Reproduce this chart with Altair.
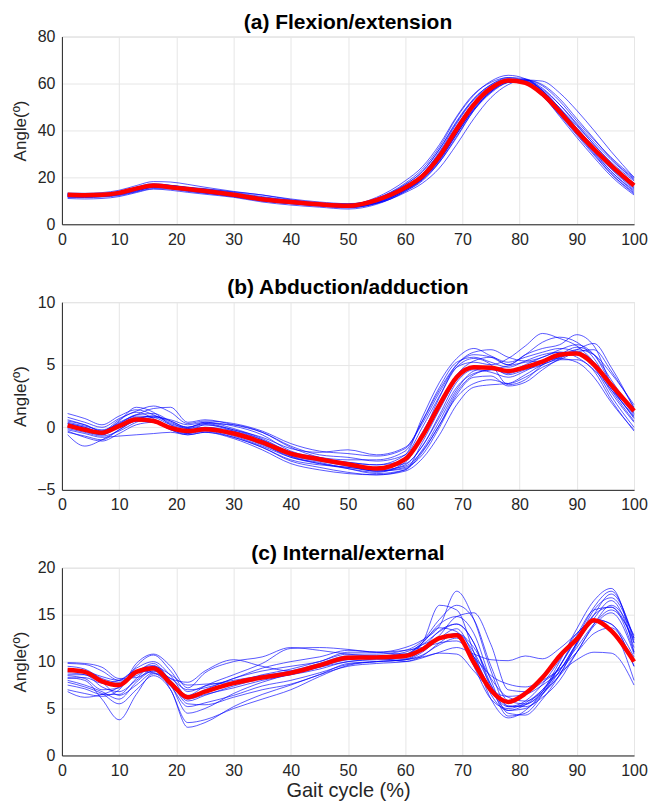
import altair as alt
import pandas as pd

FONT = "Liberation Sans"

# Gait cycle sample positions (%)
X = [1, 4, 7, 10, 13, 16, 19, 22, 25, 30, 35, 40, 45, 50, 55, 60, 63, 66, 69, 72, 75, 78, 81, 84, 87, 90, 93, 96, 100]

# ---------------- (a) Flexion/extension ----------------
A_MEAN = [12.6, 12.4, 12.6, 13.4, 15.2, 16.5, 15.8, 15.0, 14.2, 12.6, 10.7, 9.5, 8.5, 7.9, 10.3, 15.6, 20.5, 29.0, 40.5, 51.0, 58.0, 61.3, 60.3, 55.5, 48.0, 39.7, 32.0, 25.0, 16.5]
A_TRIALS = [
    [12.0, 12.0, 12.3, 13.5, 15.8, 17.3, 16.6, 15.6, 14.8, 13.2, 11.2, 9.8, 8.8, 8.3, 11.5, 18.5, 24.5, 34.0, 46.0, 55.5, 60.5, 62.5, 61.0, 55.0, 46.0, 37.0, 28.5, 20.5, 12.5],
    [13.0, 12.8, 12.8, 13.2, 14.5, 15.8, 15.8, 15.2, 14.5, 13.0, 11.2, 9.8, 8.8, 8.0, 9.0, 13.5, 17.5, 24.0, 34.0, 45.0, 54.0, 59.5, 61.5, 59.5, 53.5, 45.0, 36.5, 28.0, 19.5],
    [11.5, 11.5, 11.8, 12.6, 14.2, 15.6, 15.2, 14.2, 13.3, 12.0, 10.0, 8.8, 8.0, 7.2, 9.0, 14.5, 19.5, 28.0, 39.5, 50.5, 57.5, 61.0, 60.5, 56.0, 48.5, 40.0, 32.0, 24.0, 15.5],
    [13.3, 13.2, 13.5, 14.5, 16.5, 18.2, 18.0, 17.0, 15.8, 14.0, 12.5, 10.8, 9.5, 8.8, 10.5, 16.2, 21.5, 30.5, 42.0, 52.0, 58.5, 61.5, 61.0, 57.0, 49.5, 41.0, 33.0, 25.5, 17.5],
    [11.0, 10.8, 11.0, 11.8, 13.5, 15.0, 14.5, 13.6, 12.8, 11.5, 9.5, 8.2, 7.3, 6.5, 8.5, 14.0, 19.0, 27.0, 38.5, 49.5, 57.0, 61.5, 61.5, 57.0, 49.5, 41.0, 33.0, 25.0, 17.0],
    [12.8, 12.5, 12.8, 13.8, 15.5, 16.8, 16.2, 15.2, 14.5, 12.8, 11.0, 9.6, 8.6, 8.0, 11.0, 17.5, 23.5, 33.0, 45.5, 55.0, 61.0, 63.5, 62.0, 56.5, 48.0, 39.0, 30.5, 22.5, 14.5],
    [12.3, 12.2, 12.5, 13.2, 14.8, 16.2, 15.8, 14.8, 14.0, 12.5, 10.5, 9.2, 8.2, 7.5, 9.5, 15.0, 19.5, 27.5, 38.5, 49.0, 56.5, 60.5, 61.5, 61.0, 56.0, 48.5, 40.0, 31.0, 20.0],
    [12.0, 12.0, 12.0, 12.5, 14.0, 15.8, 15.8, 15.5, 15.0, 13.8, 12.5, 10.5, 9.0, 8.2, 9.8, 15.5, 21.0, 30.0, 41.0, 51.5, 58.0, 61.0, 60.5, 56.0, 48.0, 39.5, 31.5, 23.5, 15.0],
    [12.5, 12.2, 12.3, 13.0, 14.8, 16.2, 16.0, 15.0, 14.0, 12.2, 10.2, 9.0, 8.3, 7.8, 10.2, 16.0, 21.5, 31.0, 43.0, 53.0, 59.0, 61.5, 60.0, 54.5, 46.5, 38.0, 29.5, 21.5, 13.5],
    [12.8, 12.6, 13.0, 14.0, 15.8, 17.0, 16.5, 15.5, 14.6, 13.0, 11.0, 9.6, 8.5, 7.5, 9.2, 14.5, 19.0, 26.5, 37.0, 48.5, 56.5, 61.0, 61.0, 57.5, 51.0, 43.0, 35.0, 27.5, 19.0],
    [11.8, 11.7, 12.0, 12.8, 14.5, 16.0, 15.6, 14.8, 14.0, 12.3, 10.3, 9.2, 8.4, 8.0, 10.0, 15.5, 20.5, 29.0, 40.5, 51.0, 57.5, 60.5, 60.0, 55.5, 48.0, 40.0, 32.0, 24.0, 16.0],
    [12.6, 12.5, 12.8, 13.5, 15.2, 16.5, 16.2, 15.4, 14.5, 13.0, 11.5, 10.2, 9.0, 8.5, 11.0, 17.0, 22.5, 32.0, 44.0, 53.5, 59.5, 62.0, 61.0, 55.5, 47.0, 38.5, 30.0, 21.5, 13.0],
    [13.0, 12.8, 13.0, 13.8, 15.5, 16.8, 16.5, 15.6, 14.8, 13.2, 11.2, 9.8, 8.8, 8.0, 9.5, 14.8, 19.5, 27.5, 38.5, 49.0, 56.5, 60.5, 60.5, 56.5, 49.5, 42.0, 34.0, 26.5, 18.5],
    [12.2, 12.0, 12.2, 13.0, 14.8, 16.2, 15.5, 14.5, 13.5, 11.8, 10.0, 8.8, 7.8, 7.0, 9.0, 14.5, 19.5, 28.0, 39.5, 50.0, 57.0, 61.0, 61.5, 58.0, 51.0, 42.5, 34.0, 26.0, 17.5],
    [12.4, 12.3, 12.6, 13.6, 15.4, 16.8, 16.6, 15.8, 15.2, 13.6, 11.8, 10.2, 9.0, 8.6, 10.8, 16.8, 22.5, 32.0, 43.5, 53.5, 59.5, 62.5, 62.0, 57.0, 48.5, 39.5, 31.0, 22.5, 14.0],
    [11.6, 11.4, 11.6, 12.2, 13.8, 15.2, 15.0, 14.0, 13.2, 11.8, 10.0, 8.8, 7.8, 7.2, 8.8, 14.0, 18.5, 26.5, 37.5, 48.5, 56.0, 60.5, 61.5, 59.0, 52.5, 44.0, 36.0, 28.5, 20.0],
]

# ---------------- (b) Abduction/adduction ----------------
B_MEAN = [0.15, -0.2, -0.43, 0.1, 0.62, 0.5, -0.05, -0.3, -0.16, -0.5, -1.2, -2.1, -2.55, -2.95, -3.3, -2.55, -0.7, 1.8, 4.0, 4.8, 4.76, 4.5, 4.8, 5.25, 5.8, 5.9, 5.0, 3.4, 1.3]
B_TRIALS = [
    [1.1, 0.7, 0.2, 0.9, 1.4, 1.0, 0.3, 0.0, 0.3, -0.2, -0.8, -1.7, -2.0, -1.8, -2.2, -1.6, 0.3, 2.8, 5.0, 6.0, 6.2, 5.6, 5.3, 5.6, 6.2, 6.6, 5.8, 3.5, 1.0],
    [-0.6, -1.5, -1.0, -0.2, 0.6, 0.9, 0.4, -0.1, 0.0, -0.3, -1.0, -2.0, -2.5, -3.0, -3.5, -3.3, -1.8, 0.5, 3.0, 4.5, 4.8, 4.2, 4.6, 5.0, 5.6, 6.2, 5.8, 4.3, 1.8],
    [0.3, 0.0, -0.4, 0.5, 1.6, 1.2, 0.2, -0.3, 0.2, -0.2, -1.0, -2.3, -2.9, -3.3, -3.6, -2.8, -0.6, 2.4, 4.8, 5.5, 5.0, 3.4, 3.8, 5.0, 5.8, 6.0, 5.2, 3.0, 0.5],
    [-0.2, -0.5, -0.8, -0.7, -0.6, -0.5, -0.4, -0.6, -0.4, -0.8, -1.6, -2.6, -3.0, -3.2, -3.5, -3.0, -1.5, 0.8, 3.2, 4.3, 4.6, 4.9, 5.2, 5.3, 5.5, 5.2, 4.0, 2.0, -0.2],
    [0.5, 0.2, -0.3, 0.4, 1.0, 1.5, 1.6, 0.4, 0.6, 0.2, -0.4, -1.5, -2.2, -2.4, -2.7, -2.2, 0.0, 2.5, 4.8, 5.2, 5.0, 5.5, 6.5, 7.5, 7.1, 6.5, 5.2, 3.2, 1.2],
    [0.0, -0.3, -0.6, 0.2, 0.8, 0.6, 0.0, -0.4, -0.2, -0.6, -1.4, -2.3, -2.7, -3.1, -3.5, -3.2, -2.2, 0.0, 2.6, 4.0, 4.1, 3.3, 3.6, 4.6, 5.5, 6.2, 6.7, 4.8, 1.5],
    [0.4, 0.1, -0.2, 0.3, 0.9, 0.8, 0.2, -0.1, 0.2, -0.3, -1.2, -2.2, -2.6, -2.8, -3.0, -2.2, 0.8, 3.6, 5.5, 6.3, 5.7, 5.2, 5.6, 6.0, 6.3, 6.0, 4.8, 2.5, 0.0],
    [-0.4, -0.7, -1.0, -0.2, 0.5, 0.6, 0.0, -0.5, -0.3, -0.8, -1.6, -2.7, -3.2, -3.6, -3.8, -3.4, -2.0, 0.2, 2.4, 3.5, 3.8, 3.5, 4.0, 4.8, 5.4, 6.0, 6.2, 4.5, 1.6],
    [0.2, -0.1, -0.5, 0.1, 0.7, 0.9, 0.5, 0.0, 0.3, 0.2, -0.4, -1.6, -2.4, -2.8, -3.0, -2.6, -0.4, 2.0, 4.2, 5.3, 5.6, 5.0, 5.8, 6.8, 7.2, 6.8, 5.5, 3.2, 0.8],
    [0.6, 0.2, -0.3, 0.6, 1.2, 0.7, -0.2, -0.5, 0.0, -0.5, -1.3, -2.4, -2.8, -3.3, -3.7, -3.4, -1.2, 1.4, 3.8, 4.9, 4.7, 4.3, 4.8, 5.2, 5.6, 5.9, 5.0, 2.8, 0.4],
    [-0.1, -0.4, -0.7, -0.3, 0.4, 0.8, 0.6, 0.2, 0.4, -0.1, -0.9, -2.0, -2.5, -2.9, -3.2, -2.9, -1.5, 1.0, 3.6, 4.6, 4.4, 4.0, 4.5, 5.2, 5.8, 6.4, 5.8, 3.8, 1.1],
    [0.3, 0.0, -0.4, 0.3, 1.0, 1.1, 0.5, 0.0, 0.4, 0.1, -0.6, -1.9, -2.4, -2.6, -2.6, -1.9, 0.5, 3.2, 5.2, 5.6, 5.2, 4.8, 5.3, 5.8, 6.0, 5.6, 4.5, 2.2, -0.3],
    [0.1, -0.3, -0.6, 0.0, 0.5, 0.4, -0.2, -0.6, -0.4, -0.9, -1.8, -2.9, -3.4, -3.7, -3.8, -3.5, -2.5, -0.6, 1.8, 3.2, 3.4, 3.5, 4.2, 5.0, 5.4, 5.4, 4.6, 3.0, 0.9],
    [0.8, 0.4, 0.0, 0.7, 1.3, 1.7, 1.2, 0.3, 0.5, 0.3, -0.3, -1.3, -1.9, -2.1, -2.3, -1.7, 0.5, 3.0, 5.0, 5.8, 5.6, 5.0, 5.8, 6.3, 6.6, 7.4, 6.5, 3.5, 1.4],
    [-0.3, -0.8, -1.1, -0.5, 0.2, 0.4, 0.0, -0.4, -0.2, -0.7, -1.5, -2.4, -2.9, -3.2, -3.4, -3.1, -1.9, 0.2, 2.8, 4.2, 4.6, 4.5, 5.0, 5.6, 6.0, 6.0, 5.0, 3.2, 0.7],
]

# ---------------- (c) Internal/external ----------------
C_MEAN = [9.1, 8.9, 7.9, 7.5, 8.9, 9.3, 7.7, 6.2, 6.8, 7.7, 8.3, 8.8, 9.6, 10.4, 10.45, 10.6, 11.3, 12.5, 12.8, 9.9, 6.95, 5.7, 6.6, 8.3, 10.6, 12.4, 14.4, 13.3, 10.0]
C_TRIALS = [
    [9.8, 9.7, 9.0, 8.0, 8.5, 9.5, 8.6, 7.5, 7.6, 7.8, 8.6, 9.2, 10.0, 10.8, 10.8, 11.2, 12.2, 14.5, 16.0, 14.5, 9.5, 5.8, 5.5, 6.8, 9.5, 12.5, 15.8, 17.5, 12.0],
    [8.3, 8.0, 6.0, 3.8, 6.5, 8.7, 7.8, 5.8, 6.4, 7.4, 8.2, 8.8, 9.4, 10.0, 10.3, 10.5, 12.0, 16.0, 15.5, 11.0, 6.5, 4.8, 5.0, 6.5, 9.0, 12.0, 14.6, 16.5, 11.5],
    [7.0, 6.6, 6.3, 7.0, 9.5, 10.7, 9.0, 6.8, 7.4, 8.0, 8.5, 9.0, 9.8, 10.6, 10.6, 10.8, 12.0, 14.0, 14.8, 13.0, 8.0, 4.5, 4.3, 6.0, 8.6, 12.0, 15.5, 16.8, 12.5],
    [9.5, 9.2, 8.2, 7.8, 9.0, 9.6, 8.2, 7.8, 9.0, 10.2, 9.5, 9.0, 9.5, 10.2, 10.4, 10.0, 10.4, 11.0, 11.5, 10.8, 10.2, 10.1, 10.6, 10.3, 11.4, 13.0, 14.5, 14.0, 10.5],
    [8.0, 7.5, 6.8, 6.0, 7.8, 9.0, 7.8, 5.5, 5.4, 6.2, 7.0, 7.6, 8.6, 9.8, 10.0, 10.2, 10.5, 10.9, 10.8, 9.0, 7.0, 6.3, 6.5, 7.5, 8.8, 10.2, 11.0, 10.9, 7.5],
    [8.6, 8.6, 7.3, 6.8, 8.0, 9.2, 7.5, 4.5, 5.0, 6.6, 7.8, 8.7, 9.6, 10.3, 10.5, 10.5, 11.4, 13.3, 14.0, 12.0, 7.5, 4.2, 4.5, 6.5, 9.5, 12.8, 15.5, 15.8, 11.0],
    [7.5, 7.1, 6.5, 6.5, 8.2, 9.5, 7.0, 3.5, 3.8, 5.0, 6.0, 7.0, 8.4, 9.6, 10.0, 10.2, 10.7, 11.8, 12.5, 10.5, 7.0, 4.8, 5.4, 7.0, 9.5, 12.5, 14.5, 14.0, 9.5],
    [9.2, 9.0, 8.4, 8.0, 9.3, 10.0, 8.5, 6.3, 6.8, 7.6, 8.2, 8.6, 9.2, 10.0, 10.2, 10.3, 11.2, 12.8, 14.8, 15.2, 11.8, 7.0, 6.8, 7.8, 9.2, 11.5, 14.0, 15.5, 12.3],
    [8.2, 8.3, 7.7, 8.0, 9.0, 8.8, 7.4, 5.2, 5.6, 6.4, 7.4, 8.0, 8.8, 9.7, 10.0, 10.2, 11.0, 12.5, 13.5, 10.5, 6.0, 4.0, 4.8, 6.8, 10.0, 13.5, 16.5, 17.8, 11.0],
    [9.9, 9.8, 9.4, 8.2, 8.3, 9.0, 8.2, 7.0, 7.2, 8.2, 9.3, 10.0, 10.5, 11.2, 11.0, 10.8, 12.0, 13.6, 13.2, 9.5, 6.0, 5.0, 5.6, 7.0, 9.0, 12.0, 15.0, 15.8, 12.0],
    [6.8, 6.2, 6.5, 7.3, 8.8, 9.3, 7.6, 6.0, 6.5, 7.2, 8.0, 8.6, 9.4, 10.3, 10.4, 10.7, 11.8, 13.2, 14.0, 12.0, 7.2, 5.2, 5.8, 7.6, 10.2, 13.0, 14.2, 13.5, 8.0],
    [8.8, 8.6, 7.8, 6.4, 7.5, 8.8, 7.9, 6.3, 7.0, 8.2, 9.0, 9.5, 10.0, 11.0, 11.0, 11.2, 11.5, 12.0, 12.2, 10.5, 8.5, 7.6, 7.3, 8.0, 9.2, 11.0, 13.0, 13.6, 9.5],
    [9.0, 8.8, 8.0, 7.4, 8.8, 9.8, 8.0, 6.4, 7.4, 8.6, 9.8, 11.4, 11.5, 11.3, 11.0, 11.5, 12.3, 13.8, 17.5, 14.5, 9.0, 5.2, 5.4, 6.6, 8.6, 11.8, 15.0, 17.2, 12.5],
    [8.5, 8.2, 7.0, 7.2, 9.8, 10.8, 9.5, 7.2, 8.8, 10.0, 10.5, 11.5, 11.2, 10.8, 10.6, 11.0, 11.8, 12.5, 13.0, 11.5, 8.2, 6.2, 5.8, 6.8, 8.5, 11.0, 14.0, 16.0, 12.8],
    [7.8, 7.3, 6.6, 5.5, 7.0, 8.5, 7.0, 3.0, 3.5, 5.2, 6.5, 7.5, 8.6, 9.5, 9.8, 10.0, 10.6, 12.0, 13.0, 11.0, 7.5, 5.3, 5.2, 6.2, 8.0, 11.0, 13.8, 15.2, 10.8],
]

X_TICKS = [0, 10, 20, 30, 40, 50, 60, 70, 80, 90, 100]


def long_frame(trials):
    rows = []
    for i, series in enumerate(trials):
        for x, v in zip(X, series):
            rows.append({"x": x, "y": v, "trial": f"trial{i}"})
    return pd.DataFrame(rows)


def panel(title, trials, mean, domain, yticks, xtitle=None):
    blue_df = long_frame(trials)
    red_df = pd.DataFrame({"x": X, "y": mean})
    if xtitle:
        xaxis = alt.Axis(values=X_TICKS, title=xtitle, titleFontSize=20,
                         titleFontWeight="normal", titlePadding=2, labelFlush=False)
    else:
        xaxis = alt.Axis(values=X_TICKS, title=None, labelFlush=False)
    xenc = alt.X("x:Q", scale=alt.Scale(domain=[0, 100], nice=False), axis=xaxis)
    yenc = alt.Y("y:Q", scale=alt.Scale(domain=domain, nice=False),
                 axis=alt.Axis(values=yticks, title="Angle(º)"))
    blue = alt.Chart(blue_df).mark_line(
        color="#0000ff", strokeWidth=1, opacity=0.65, interpolate="monotone"
    ).encode(x=xenc, y=yenc, detail="trial:N")
    red = alt.Chart(red_df).mark_line(
        color="#ff0000", strokeWidth=4.5, interpolate="monotone"
    ).encode(x=xenc, y=yenc)
    return alt.layer(blue, red).properties(
        width=573, height=188,
        title=alt.TitleParams(title, fontSize=21, fontWeight="bold", font=FONT,
                              color="#000000", offset=-4),
    )


chart = alt.vconcat(
    panel("(a) Flexion/extension", A_TRIALS, A_MEAN, [0, 80], [0, 20, 40, 60, 80]),
    panel("(b) Abduction/adduction", B_TRIALS, B_MEAN, [-5, 10], [-5, 0, 5, 10]),
    panel("(c) Internal/external", C_TRIALS, C_MEAN, [0, 20], [0, 5, 10, 15, 20],
          xtitle="Gait cycle (%)"),
    spacing=28,
).properties(
    padding={"left": 3, "top": 2, "right": 5, "bottom": 0}
).configure_view(
    stroke="#d9d9d9", strokeWidth=1
).configure_axis(
    labelFont=FONT, titleFont=FONT, labelFontSize=16, titleFontSize=17,
    titleFontWeight="normal", labelColor="#262626", titleColor="#262626",
    domainColor="#262626", domainWidth=1, ticks=False, labelPadding=7,
    gridColor="#e6e6e6", gridWidth=1,
).configure_axisY(
    minExtent=25, maxExtent=25, titlePadding=7
)

chart.save("out.html", embed_options={"renderer": "svg", "actions": False})
